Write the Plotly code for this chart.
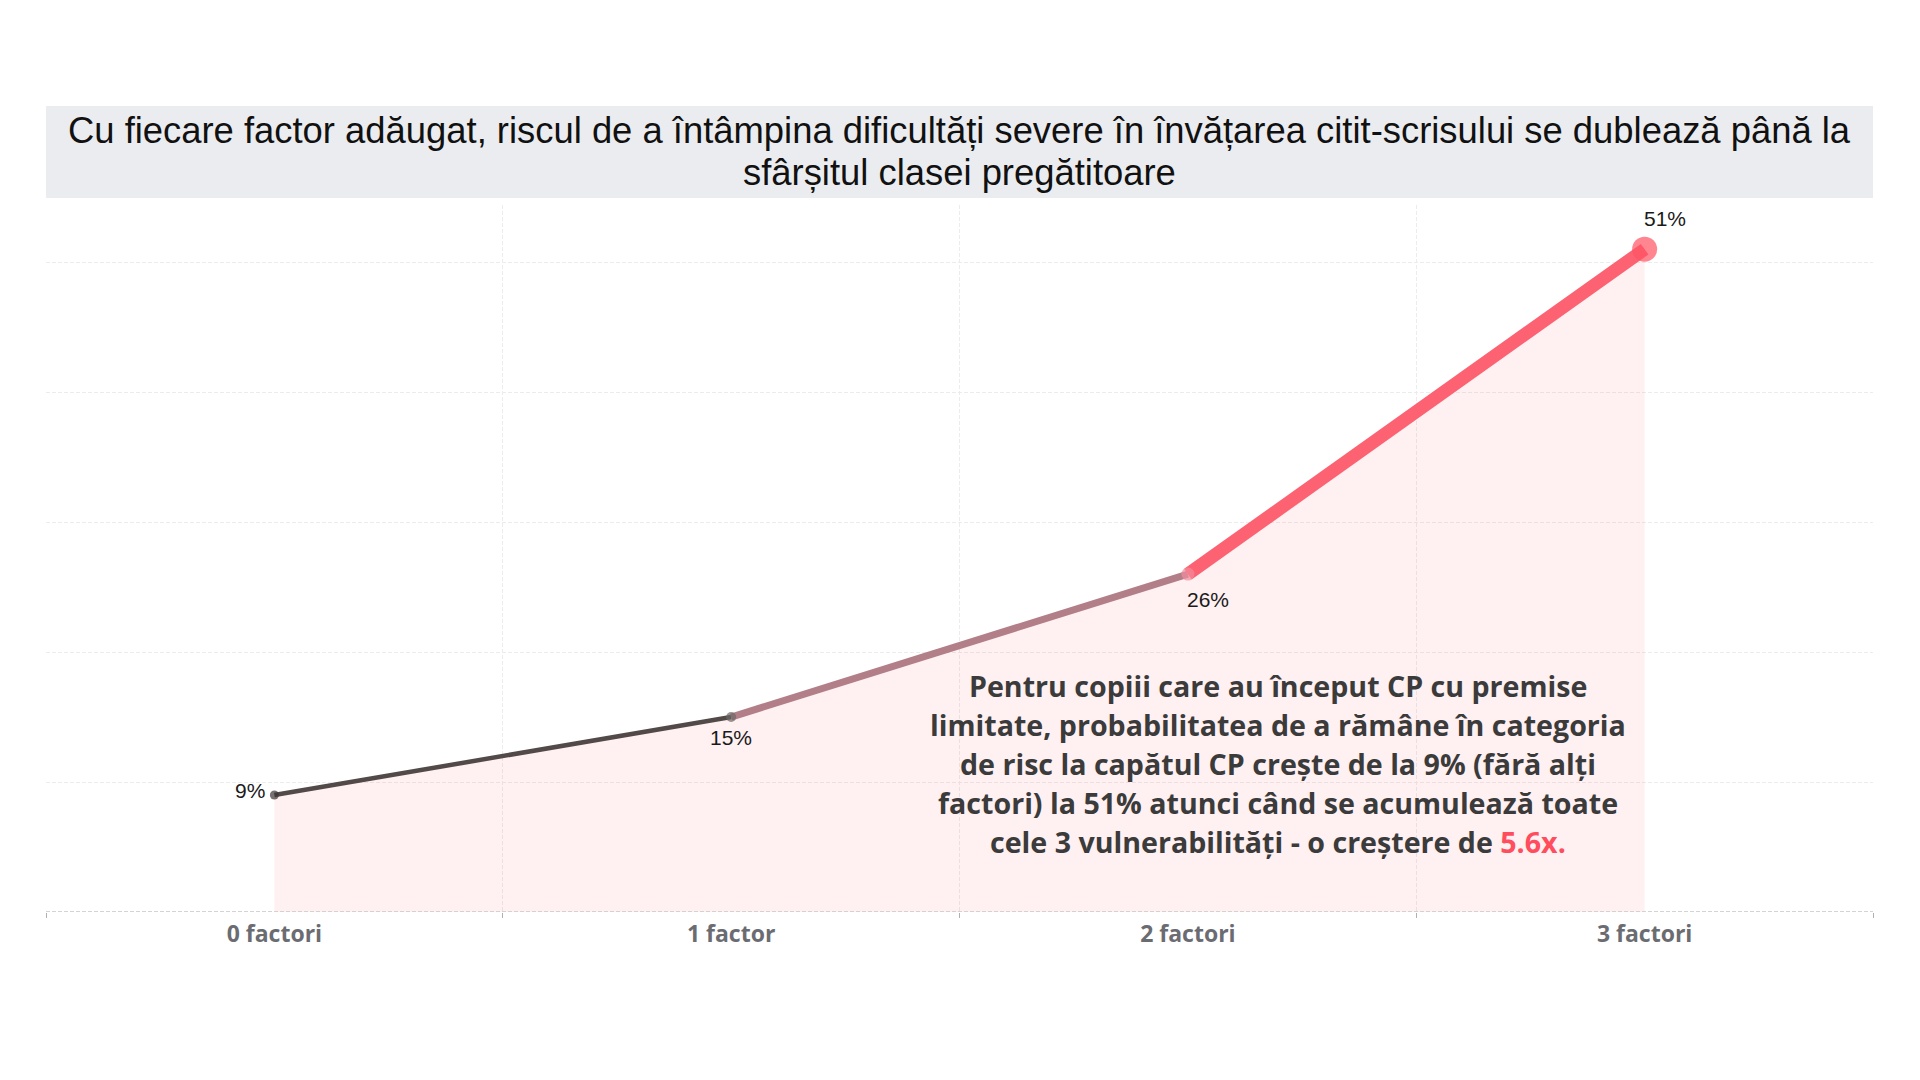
import plotly.graph_objects as go

# ---- data ----
categories = ["0 factori", "1 factor", "2 factori", "3 factori"]
risk_pct = [9, 15, 26, 51]
title_lines = [
    "Cu fiecare factor adăugat, riscul de a întâmpina dificultăți severe în învățarea citit-scrisului se dublează până la",
    "sfârșitul clasei pregătitoare",
]
note_lines = [
    "Pentru copiii care au început CP cu premise",
    "limitate, probabilitatea de a rămâne în categoria",
    "de risc la capătul CP crește de la 9% (fără alți",
    "factori) la 51% atunci când se acumulează toate",
    "cele 3 vulnerabilități - o creștere de <span style='color:#ff4d5e'>5.6x.</span>",
]

# ---- styles ----
seg_colors = ["#524949", "#b27f88", "#fc6272"]
seg_widths = [4.5, 7, 13]
marker_colors = ["#3d3535", "#6e6868", "#f38c9b", "#ff5263"]
marker_sizes = [9, 10, 13, 25]
label_shift = [(-24, 5), (0, -20), (20, -25), (20, 31)]

fig = go.Figure()

# area fill
fig.add_trace(go.Scatter(
    x=categories, y=risk_pct, mode="lines", fill="tozeroy",
    fillcolor="rgba(255,90,105,0.09)", line=dict(width=0, color="rgba(0,0,0,0)"),
    hoverinfo="skip", showlegend=False))

# line segments
for i in range(len(categories) - 1):
    fig.add_trace(go.Scatter(
        x=categories[i:i + 2], y=risk_pct[i:i + 2], mode="lines",
        line=dict(color=seg_colors[i], width=seg_widths[i]),
        hoverinfo="skip", showlegend=False))

# markers
fig.add_trace(go.Scatter(
    x=categories, y=risk_pct, mode="markers",
    marker=dict(color=marker_colors, size=marker_sizes, line=dict(width=0)),
    showlegend=False))

# value labels
for c, v, (dx, dy) in zip(categories, risk_pct, label_shift):
    fig.add_annotation(x=c, y=v, xref="x", yref="y", text=f"{v}%", showarrow=False,
                       xshift=dx, yshift=dy,
                       font=dict(family="Arial, Liberation Sans", size=21, color="#1a1a1a"))

# title band
plot_top, plot_bot = 205, 912
ph = plot_bot - plot_top
fig.add_shape(type="rect", xref="paper", yref="paper", x0=0, x1=1,
              y0=(plot_bot - 198) / ph, y1=(plot_bot - 106) / ph,
              fillcolor="#ebecf0", line=dict(width=0), layer="below")
for k, line in enumerate(title_lines):
    yc = 131 + k * 41
    fig.add_annotation(xref="paper", yref="paper", x=0.5, y=(plot_bot - yc) / ph,
                       text=line, showarrow=False, align="center",
                       xanchor="center", yanchor="middle",
                       font=dict(family="Arial, Liberation Sans", size=36.4, color="#111111"))

# note text
note_x = (1278 - 46) / 1827
for k, line in enumerate(note_lines):
    yc = 685 + k * 39.2
    fig.add_annotation(xref="paper", yref="paper", x=note_x, y=(plot_bot - yc) / ph,
                       text=f"<b>{line}</b>", showarrow=False, xanchor="center", yanchor="middle",
                       font=dict(family="Open Sans", size=28.6, color="#3b3b3b"))

# dashed baseline
fig.add_shape(type="line", xref="paper", yref="y", x0=0, x1=1, y0=0, y1=0,
              line=dict(color="#c6c6c6", width=1.5, dash="4px,2px"))

fig.update_xaxes(type="category", categoryorder="array", categoryarray=categories,
                 range=[-0.5, 3.5], tickson="boundaries", showgrid=True,
                 gridcolor="#ececec", griddash="4px,2px", gridwidth=1,
                 ticks="outside", ticklen=5, tickcolor="#b0b0b0", showline=False,
                 zeroline=False, ticklabelstandoff=6,
                 tickfont=dict(family="Open Sans", size=23, color="#6b6c72", weight="bold"))
fig.update_yaxes(range=[0, 54.4], showticklabels=False, dtick=10, showgrid=True,
                 gridcolor="#ececec", griddash="4px,2px", gridwidth=1, zeroline=False,
                 showline=False)

fig.update_layout(width=1920, height=1080, paper_bgcolor="white", plot_bgcolor="white",
                  margin=dict(l=46, r=47, t=205, b=168), showlegend=False)

fig.write_html("out.html")
